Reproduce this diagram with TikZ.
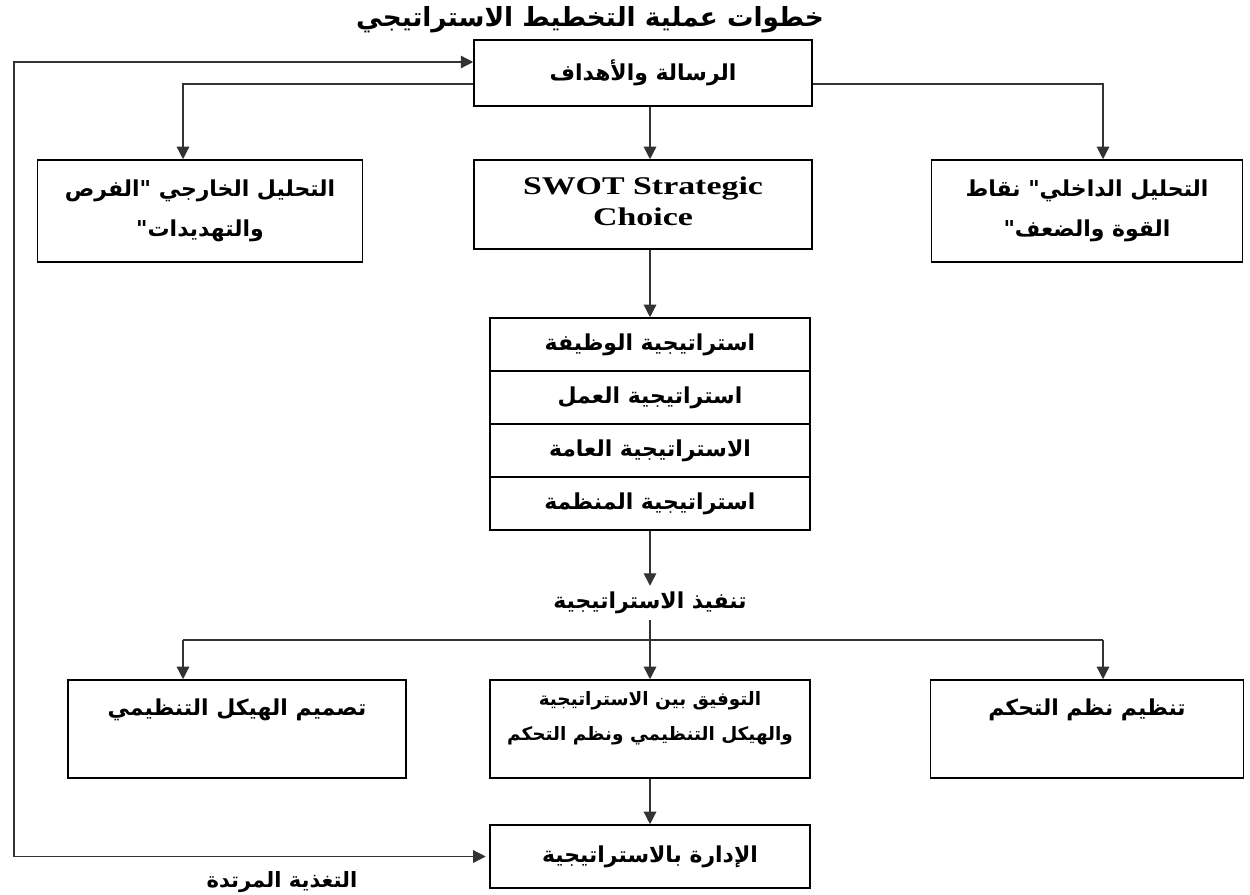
\documentclass[tikz,border=0pt]{standalone}
\usepackage{fontspec}
\setmainfont{Liberation Serif}
\newfontfamily\arabicfont[Script=Arabic]{DejaVu Sans}
\newfontfamily\swotfont[FakeStretch=1.33]{Liberation Serif}
\TeXXeTstate=1
\usetikzlibrary{positioning, arrows.meta}
\newcommand{\artxt}[1]{\beginR #1\endR}
\def\boxline{0.9pt}
\def\stackwidth{6.4cm}

\tikzset{
  box/.style={draw, line width=\boxline, minimum height=1.06cm},
  artext/.style={font=\arabicfont\bfseries\fontsize{12.5}{23}\selectfont, align=center},
  smalltext/.style={font=\arabicfont\bfseries\fontsize{10.5}{20}\selectfont, align=center},
  link/.style={line width=0.75pt, black!80},
  arr/.style={link, -{Triangle[length=2.5mm, width=2.5mm]}},
  twoarr/.style={link, {Triangle[length=2.5mm, width=2.5mm]}-{Triangle[length=2.5mm, width=2.5mm]}}
}

\begin{document}
\begin{tikzpicture}[x=0.02cm, y=-0.02cm]
  \useasboundingbox (0,0) rectangle (1250,895);

  % title
  \node[artext, font=\arabicfont\bfseries\fontsize{15}{17}\selectfont] (title) at (590,20) {\artxt{خطوات عملية التخطيط الاستراتيجي}};

  % first rows
  \node[box, artext, minimum width=6.76cm, minimum height=1.32cm] (msn) at (643,73) {\artxt{الرسالة والأهداف}};
  \node[box, artext, minimum width=6.5cm, minimum height=2.04cm] (ext) at (200,211) {\artxt{التحليل الخارجي "الفرص}\\\artxt{والتهديدات"}};
  \node[box, minimum width=6.76cm, minimum height=1.78cm] (swot) at (643,204.5) {};
  \node[align=center, font=\swotfont\bfseries\fontsize{14.5}{17.5}\selectfont] (swot-t) at (643,201) {SWOT Strategic\\Choice};
  \node[box, artext, minimum width=6.22cm, minimum height=2.04cm] (int) at (1087,211) {\artxt{التحليل الداخلي" نقاط}\\\artxt{القوة والضعف"}};

  % strategy levels
  \node[box, artext, minimum width=\stackwidth] (s1) at (650,344.5) {\artxt{استراتيجية الوظيفة}};
  \node[box, artext, minimum width=\stackwidth] (s2) at (650,397.5) {\artxt{استراتيجية العمل}};
  \node[box, artext, minimum width=\stackwidth] (s3) at (650,450.5) {\artxt{الاستراتيجية العامة}};
  \node[box, artext, minimum width=\stackwidth] (s4) at (650,503.5) {\artxt{استراتيجية المنظمة}};

  \node[artext] (impl) at (650,603) {\artxt{تنفيذ الاستراتيجية}};
  \coordinate (split) at (650,640);
  \coordinate (lft) at (183,640);
  \coordinate (rgt) at (1103,640);
  \coordinate (fb) at (14,400);

  % implementation row
  \node[box, minimum width=6.76cm, minimum height=1.96cm] (struct) at (237,729) {};
  \node[artext] (struct-t) at (237,710) {\artxt{تصميم الهيكل التنظيمي}};
  \node[box, minimum width=\stackwidth, minimum height=1.96cm] (fit) at (650,729) {};
  \node[smalltext] (fit-t) at (650,718) {\artxt{التوفيق بين الاستراتيجية}\\\artxt{والهيكل التنظيمي ونظم التحكم}};
  \node[box, minimum width=6.26cm, minimum height=1.96cm] (ctrl) at (1087,729) {};
  \node[artext] (ctrl-t) at (1087,710) {\artxt{تنظيم نظم التحكم}};

  \node[box, artext, minimum width=\stackwidth, minimum height=1.26cm] (mgmt) at (650,856.5) {\artxt{الإدارة بالاستراتيجية}};
  \node[artext, font=\arabicfont\bfseries\fontsize{12}{14}\selectfont] (fbl) at (282,882) {\artxt{التغذية المرتدة}};

  % connectors
  \draw[arr] ([yshift=-0.22cm]msn.west) -| (lft |- ext.north);
  \draw[arr] ([yshift=-0.22cm]msn.east) -| (rgt |- int.north);
  \draw[arr] (msn.south -| s1) -- (swot.north -| s1);
  \draw[arr] (swot.south -| s1) -- (s1);
  \draw[arr] (s4) -- (impl);
  \draw[arr] (impl) -- (fit);
  \draw[link] (split) -- (lft);
  \draw[link] (split) -- (rgt);
  \draw[arr] (lft) -- (lft |- struct.north);
  \draw[arr] (rgt) -- (rgt |- ctrl.north);
  \draw[arr] (fit) -- (mgmt);
  % feedback loop
  \draw[twoarr, shorten >=2pt] ([yshift=0.22cm]msn.west) -| (fb) |- (mgmt.west);
\end{tikzpicture}
\end{document}
